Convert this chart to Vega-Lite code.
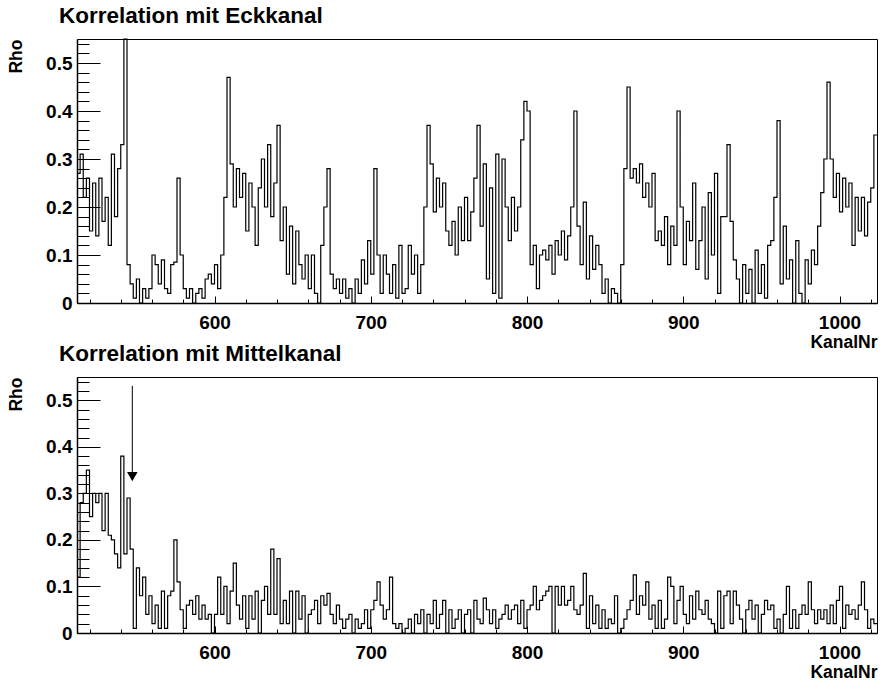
{
"$schema":"https://vega.github.io/schema/vega-lite/v6.json",
"background":"white",
"padding":{"left":7,"top":4,"right":3,"bottom":0},
"spacing":-9,
"config":{"view":{"stroke":"black","strokeWidth":1},"font":"Liberation Sans",
"axis":{"labelFont":"Liberation Sans","labelFontWeight":"bold","labelFontSize":19,"labelColor":"black","labelOverlap":false,"labelBound":false,"titleFont":"Liberation Sans","titleFontWeight":"bold","titleFontSize":17.5,"titleColor":"black","domainColor":"black","domainWidth":1.5,"tickColor":"black","tickWidth":1,"grid":false,"tickCount":200},
"title":{"font":"Liberation Sans","fontWeight":"bold","fontSize":22.5,"color":"black","anchor":"start","frame":"group","dx":-18,"offset":7}},
"datasets":{
"eck":[{"x":512,"y":0.27},{"x":514,"y":0.31},{"x":516,"y":0.22},{"x":518,"y":0.26},{"x":520,"y":0.15},{"x":522,"y":0.25},{"x":524,"y":0.14},{"x":526,"y":0.26},{"x":528,"y":0.17},{"x":530,"y":0.22},
{"x":532,"y":0.12},{"x":534,"y":0.31},{"x":536,"y":0.18},{"x":538,"y":0.28},{"x":540,"y":0.33},{"x":542,"y":0.55},{"x":544,"y":0.08},{"x":546,"y":0.04},{"x":548,"y":0.01},{"x":550,"y":0.05},
{"x":552,"y":0.0},{"x":554,"y":0.03},{"x":556,"y":0.01},{"x":558,"y":0.03},{"x":560,"y":0.1},{"x":562,"y":0.08},{"x":564,"y":0.04},{"x":566,"y":0.09},{"x":568,"y":0.03},{"x":570,"y":0.02},
{"x":572,"y":0.08},{"x":574,"y":0.085},{"x":576,"y":0.26},{"x":578,"y":0.1},{"x":580,"y":0.03},{"x":582,"y":0.01},{"x":584,"y":0.03},{"x":586,"y":0.0},{"x":588,"y":0.02},{"x":590,"y":0.03},
{"x":592,"y":0.01},{"x":594,"y":0.05},{"x":596,"y":0.06},{"x":598,"y":0.04},{"x":600,"y":0.08},{"x":602,"y":0.03},{"x":604,"y":0.1},{"x":606,"y":0.22},{"x":608,"y":0.47},{"x":610,"y":0.29},
{"x":612,"y":0.2},{"x":614,"y":0.28},{"x":616,"y":0.22},{"x":618,"y":0.27},{"x":620,"y":0.15},{"x":622,"y":0.25},{"x":624,"y":0.2},{"x":626,"y":0.12},{"x":628,"y":0.24},{"x":630,"y":0.3},
{"x":632,"y":0.2},{"x":634,"y":0.33},{"x":636,"y":0.18},{"x":638,"y":0.25},{"x":640,"y":0.37},{"x":642,"y":0.13},{"x":644,"y":0.2},{"x":646,"y":0.06},{"x":648,"y":0.16},{"x":650,"y":0.04},
{"x":652,"y":0.15},{"x":654,"y":0.08},{"x":656,"y":0.05},{"x":658,"y":0.1},{"x":660,"y":0.03},{"x":662,"y":0.1},{"x":664,"y":0.02},{"x":666,"y":0.0},{"x":668,"y":0.12},{"x":670,"y":0.2},
{"x":672,"y":0.28},{"x":674,"y":0.06},{"x":676,"y":0.03},{"x":678,"y":0.05},{"x":680,"y":0.02},{"x":682,"y":0.05},{"x":684,"y":0.01},{"x":686,"y":0.03},{"x":688,"y":0.0},{"x":690,"y":0.05},
{"x":692,"y":0.02},{"x":694,"y":0.09},{"x":696,"y":0.04},{"x":698,"y":0.13},{"x":700,"y":0.06},{"x":702,"y":0.28},{"x":704,"y":0.1},{"x":706,"y":0.02},{"x":708,"y":0.1},{"x":710,"y":0.06},
{"x":712,"y":0.02},{"x":714,"y":0.08},{"x":716,"y":0.01},{"x":718,"y":0.12},{"x":720,"y":0.02},{"x":722,"y":0.03},{"x":724,"y":0.12},{"x":726,"y":0.06},{"x":728,"y":0.1},{"x":730,"y":0.02},
{"x":732,"y":0.08},{"x":734,"y":0.2},{"x":736,"y":0.37},{"x":738,"y":0.29},{"x":740,"y":0.19},{"x":742,"y":0.26},{"x":744,"y":0.2},{"x":746,"y":0.25},{"x":748,"y":0.15},{"x":750,"y":0.12},
{"x":752,"y":0.17},{"x":754,"y":0.1},{"x":756,"y":0.2},{"x":758,"y":0.13},{"x":760,"y":0.22},{"x":762,"y":0.13},{"x":764,"y":0.19},{"x":766,"y":0.26},{"x":768,"y":0.37},{"x":770,"y":0.16},
{"x":772,"y":0.29},{"x":774,"y":0.05},{"x":776,"y":0.24},{"x":778,"y":0.02},{"x":780,"y":0.31},{"x":782,"y":0.01},{"x":784,"y":0.3},{"x":786,"y":0.2},{"x":788,"y":0.13},{"x":790,"y":0.22},
{"x":792,"y":0.15},{"x":794,"y":0.2},{"x":796,"y":0.34},{"x":798,"y":0.42},{"x":800,"y":0.4},{"x":802,"y":0.08},{"x":804,"y":0.12},{"x":806,"y":0.03},{"x":808,"y":0.1},{"x":810,"y":0.11},
{"x":812,"y":0.09},{"x":814,"y":0.12},{"x":816,"y":0.06},{"x":818,"y":0.13},{"x":820,"y":0.1},{"x":822,"y":0.15},{"x":824,"y":0.09},{"x":826,"y":0.14},{"x":828,"y":0.2},{"x":830,"y":0.4},
{"x":832,"y":0.16},{"x":834,"y":0.08},{"x":836,"y":0.21},{"x":838,"y":0.05},{"x":840,"y":0.14},{"x":842,"y":0.07},{"x":844,"y":0.12},{"x":846,"y":0.08},{"x":848,"y":0.02},{"x":850,"y":0.05},
{"x":852,"y":0.0},{"x":854,"y":0.03},{"x":856,"y":0.02},{"x":858,"y":0.0},{"x":860,"y":0.08},{"x":862,"y":0.28},{"x":864,"y":0.45},{"x":866,"y":0.26},{"x":868,"y":0.28},{"x":870,"y":0.25},
{"x":872,"y":0.29},{"x":874,"y":0.22},{"x":876,"y":0.25},{"x":878,"y":0.2},{"x":880,"y":0.27},{"x":882,"y":0.13},{"x":884,"y":0.15},{"x":886,"y":0.12},{"x":888,"y":0.18},{"x":890,"y":0.08},
{"x":892,"y":0.16},{"x":894,"y":0.12},{"x":896,"y":0.4},{"x":898,"y":0.2},{"x":900,"y":0.08},{"x":902,"y":0.17},{"x":904,"y":0.13},{"x":906,"y":0.25},{"x":908,"y":0.07},{"x":910,"y":0.13},
{"x":912,"y":0.2},{"x":914,"y":0.05},{"x":916,"y":0.23},{"x":918,"y":0.1},{"x":920,"y":0.27},{"x":922,"y":0.02},{"x":924,"y":0.18},{"x":926,"y":0.18},{"x":928,"y":0.33},{"x":930,"y":0.17},
{"x":932,"y":0.09},{"x":934,"y":0.05},{"x":936,"y":0.0},{"x":938,"y":0.08},{"x":940,"y":0.02},{"x":942,"y":0.07},{"x":944,"y":0.0},{"x":946,"y":0.11},{"x":948,"y":0.02},{"x":950,"y":0.08},
{"x":952,"y":0.01},{"x":954,"y":0.12},{"x":956,"y":0.13},{"x":958,"y":0.22},{"x":960,"y":0.38},{"x":962,"y":0.04},{"x":964,"y":0.16},{"x":966,"y":0.05},{"x":968,"y":0.09},{"x":970,"y":0.0},
{"x":972,"y":0.13},{"x":974,"y":0.02},{"x":976,"y":0.0},{"x":978,"y":0.09},{"x":980,"y":0.04},{"x":982,"y":0.11},{"x":984,"y":0.08},{"x":986,"y":0.16},{"x":988,"y":0.23},{"x":990,"y":0.3},
{"x":992,"y":0.46},{"x":994,"y":0.3},{"x":996,"y":0.22},{"x":998,"y":0.27},{"x":1000,"y":0.19},{"x":1002,"y":0.26},{"x":1004,"y":0.2},{"x":1006,"y":0.25},{"x":1008,"y":0.12},{"x":1010,"y":0.22},
{"x":1012,"y":0.15},{"x":1014,"y":0.22},{"x":1016,"y":0.14},{"x":1018,"y":0.21},{"x":1020,"y":0.24},{"x":1022,"y":0.35},{"x":1024,"y":0.35}],
"mitte":[{"x":512,"y":0.12},{"x":514,"y":0.28},{"x":516,"y":0.3},{"x":518,"y":0.35},{"x":520,"y":0.25},{"x":522,"y":0.3},{"x":524,"y":0.28},{"x":526,"y":0.3},{"x":528,"y":0.22},{"x":530,"y":0.3},
{"x":532,"y":0.21},{"x":534,"y":0.2},{"x":536,"y":0.17},{"x":538,"y":0.14},{"x":540,"y":0.38},{"x":542,"y":0.17},{"x":544,"y":0.29},{"x":546,"y":0.18},{"x":548,"y":0.01},{"x":550,"y":0.14},
{"x":552,"y":0.08},{"x":554,"y":0.12},{"x":556,"y":0.04},{"x":558,"y":0.08},{"x":560,"y":0.02},{"x":562,"y":0.06},{"x":564,"y":0.01},{"x":566,"y":0.09},{"x":568,"y":0.01},{"x":570,"y":0.08},
{"x":572,"y":0.09},{"x":574,"y":0.2},{"x":576,"y":0.11},{"x":578,"y":0.05},{"x":580,"y":0.01},{"x":582,"y":0.06},{"x":584,"y":0.07},{"x":586,"y":0.04},{"x":588,"y":0.08},{"x":590,"y":0.03},
{"x":592,"y":0.06},{"x":594,"y":0.03},{"x":596,"y":0.04},{"x":598,"y":0.0},{"x":600,"y":0.04},{"x":602,"y":0.12},{"x":604,"y":0.04},{"x":606,"y":0.1},{"x":608,"y":0.02},{"x":610,"y":0.09},
{"x":612,"y":0.15},{"x":614,"y":0.06},{"x":616,"y":0.03},{"x":618,"y":0.08},{"x":620,"y":0.01},{"x":622,"y":0.08},{"x":624,"y":0.03},{"x":626,"y":0.09},{"x":628,"y":0.0},{"x":630,"y":0.07},
{"x":632,"y":0.1},{"x":634,"y":0.04},{"x":636,"y":0.18},{"x":638,"y":0.04},{"x":640,"y":0.16},{"x":642,"y":0.02},{"x":644,"y":0.07},{"x":646,"y":0.02},{"x":648,"y":0.09},{"x":650,"y":0.0},
{"x":652,"y":0.09},{"x":654,"y":0.03},{"x":656,"y":0.08},{"x":658,"y":0.0},{"x":660,"y":0.04},{"x":662,"y":0.05},{"x":664,"y":0.07},{"x":666,"y":0.02},{"x":668,"y":0.08},{"x":670,"y":0.06},
{"x":672,"y":0.085},{"x":674,"y":0.04},{"x":676,"y":0.02},{"x":678,"y":0.06},{"x":680,"y":0.03},{"x":682,"y":0.01},{"x":684,"y":0.03},{"x":686,"y":0.04},{"x":688,"y":0.0},{"x":690,"y":0.03},
{"x":692,"y":0.01},{"x":694,"y":0.02},{"x":696,"y":0.05},{"x":698,"y":0.01},{"x":700,"y":0.05},{"x":702,"y":0.07},{"x":704,"y":0.11},{"x":706,"y":0.06},{"x":708,"y":0.03},{"x":710,"y":0.05},
{"x":712,"y":0.12},{"x":714,"y":0.02},{"x":716,"y":0.01},{"x":718,"y":0.02},{"x":720,"y":0.0},{"x":722,"y":0.01},{"x":724,"y":0.03},{"x":726,"y":0.0},{"x":728,"y":0.04},{"x":730,"y":0.02},
{"x":732,"y":0.05},{"x":734,"y":0.0},{"x":736,"y":0.04},{"x":738,"y":0.02},{"x":740,"y":0.07},{"x":742,"y":0.01},{"x":744,"y":0.04},{"x":746,"y":0.07},{"x":748,"y":0.0},{"x":750,"y":0.05},
{"x":752,"y":0.01},{"x":754,"y":0.03},{"x":756,"y":0.05},{"x":758,"y":0.0},{"x":760,"y":0.04},{"x":762,"y":0.05},{"x":764,"y":0.0},{"x":766,"y":0.07},{"x":768,"y":0.03},{"x":770,"y":0.02},
{"x":772,"y":0.075},{"x":774,"y":0.05},{"x":776,"y":0.02},{"x":778,"y":0.05},{"x":780,"y":0.01},{"x":782,"y":0.03},{"x":784,"y":0.04},{"x":786,"y":0.06},{"x":788,"y":0.03},{"x":790,"y":0.05},
{"x":792,"y":0.06},{"x":794,"y":0.02},{"x":796,"y":0.07},{"x":798,"y":0.01},{"x":800,"y":0.05},{"x":802,"y":0.06},{"x":804,"y":0.1},{"x":806,"y":0.05},{"x":808,"y":0.07},{"x":810,"y":0.08},
{"x":812,"y":0.09},{"x":814,"y":0.1},{"x":816,"y":0.0},{"x":818,"y":0.1},{"x":820,"y":0.06},{"x":822,"y":0.1},{"x":824,"y":0.06},{"x":826,"y":0.07},{"x":828,"y":0.1},{"x":830,"y":0.05},
{"x":832,"y":0.04},{"x":834,"y":0.06},{"x":836,"y":0.128},{"x":838,"y":0.01},{"x":840,"y":0.08},{"x":842,"y":0.02},{"x":844,"y":0.06},{"x":846,"y":0.01},{"x":848,"y":0.05},{"x":850,"y":0.01},
{"x":852,"y":0.03},{"x":854,"y":0.02},{"x":856,"y":0.08},{"x":858,"y":0.0},{"x":860,"y":0.01},{"x":862,"y":0.03},{"x":864,"y":0.05},{"x":866,"y":0.07},{"x":868,"y":0.125},{"x":870,"y":0.04},
{"x":872,"y":0.08},{"x":874,"y":0.06},{"x":876,"y":0.11},{"x":878,"y":0.03},{"x":880,"y":0.06},{"x":882,"y":0.01},{"x":884,"y":0.07},{"x":886,"y":0.01},{"x":888,"y":0.03},{"x":890,"y":0.12},
{"x":892,"y":0.1},{"x":894,"y":0.02},{"x":896,"y":0.07},{"x":898,"y":0.1},{"x":900,"y":0.04},{"x":902,"y":0.02},{"x":904,"y":0.08},{"x":906,"y":0.03},{"x":908,"y":0.09},{"x":910,"y":0.05},
{"x":912,"y":0.04},{"x":914,"y":0.07},{"x":916,"y":0.03},{"x":918,"y":0.02},{"x":920,"y":0.0},{"x":922,"y":0.09},{"x":924,"y":0.01},{"x":926,"y":0.08},{"x":928,"y":0.09},{"x":930,"y":0.02},
{"x":932,"y":0.09},{"x":934,"y":0.06},{"x":936,"y":0.03},{"x":938,"y":0.0},{"x":940,"y":0.05},{"x":942,"y":0.07},{"x":944,"y":0.03},{"x":946,"y":0.06},{"x":948,"y":0.0},{"x":950,"y":0.04},
{"x":952,"y":0.07},{"x":954,"y":0.05},{"x":956,"y":0.06},{"x":958,"y":0.01},{"x":960,"y":0.03},{"x":962,"y":0.0},{"x":964,"y":0.04},{"x":966,"y":0.1},{"x":968,"y":0.01},{"x":970,"y":0.05},
{"x":972,"y":0.01},{"x":974,"y":0.04},{"x":976,"y":0.06},{"x":978,"y":0.04},{"x":980,"y":0.11},{"x":982,"y":0.05},{"x":984,"y":0.02},{"x":986,"y":0.05},{"x":988,"y":0.03},{"x":990,"y":0.05},
{"x":992,"y":0.02},{"x":994,"y":0.06},{"x":996,"y":0.02},{"x":998,"y":0.07},{"x":1000,"y":0.1},{"x":1002,"y":0.01},{"x":1004,"y":0.06},{"x":1006,"y":0.04},{"x":1008,"y":0.05},{"x":1010,"y":0.03},
{"x":1012,"y":0.06},{"x":1014,"y":0.11},{"x":1016,"y":0.05},{"x":1018,"y":0.01},{"x":1020,"y":0.03},{"x":1022,"y":0.02},{"x":1024,"y":0.02}],
"arrow":[{"x":547.4,"y":0.531,"y2":0.345,"tip":0.336}]
},
"vconcat":[
{"title":"Korrelation mit Eckkanal","width":800,"height":264,
"layer":[
{"data":{"name":"eck"},"mark":{"type":"line","interpolate":"step-after","color":"black","strokeWidth":1.2},
"encoding":{"x":{"field":"x","type":"quantitative","scale":{"domain":[512,1024],"nice":false,"zero":false},
"axis":{"title":"KanalNr","titleAnchor":"end","titleAlign":"right","titlePadding":-2,"tickCount":200,"labelOverlap":false,"labelBound":false,"values":[520,540,560,580,600,620,640,660,680,700,720,740,760,780,800,820,840,860,880,900,920,940,960,980,1000,1020],"labelExpr":"datum.value % 100 == 0 ? datum.label : ''","format":"d","tickSize":{"condition":{"test":"datum.value % 100 == 0","value":-7},"value":-4},"labelPadding":17}},
"y":{"field":"y","type":"quantitative","scale":{"domain":[0,0.55],"nice":false},
"axis":{"title":"Rho","titleAnchor":"end","titlePadding":20,"tickCount":200,"labelOverlap":false,"labelBound":false,"values":[0,0.02,0.04,0.06,0.08,0.1,0.12,0.14,0.16,0.18,0.2,0.22,0.24,0.26,0.28,0.3,0.32,0.34,0.36,0.38,0.4,0.42,0.44,0.46,0.48,0.5,0.52,0.54],"labelExpr":"round(datum.value*50) % 5 == 0 ? (datum.value == 0 ? '0' : format(datum.value,'.1f')) : ''","tickSize":{"condition":{"test":"round(datum.value*50) % 5 == 0","value":-23},"value":-12},"labelPadding":28}}}},
{"mark":{"type":"rule","color":"#d00000","strokeWidth":1},"encoding":{"y":{"datum":0.5485}}},
{"mark":{"type":"rule","color":"#d00000","strokeWidth":1},"encoding":{"x":{"datum":512.5}}}
]},
{"title":"Korrelation mit Mittelkanal","width":800,"height":256,
"layer":[
{"data":{"name":"mitte"},"mark":{"type":"line","interpolate":"step-after","color":"black","strokeWidth":1.2},
"encoding":{"x":{"field":"x","type":"quantitative","scale":{"domain":[512,1024],"nice":false,"zero":false},
"axis":{"title":"KanalNr","titleAnchor":"end","titleAlign":"right","titlePadding":-2,"tickCount":200,"labelOverlap":false,"labelBound":false,"values":[520,540,560,580,600,620,640,660,680,700,720,740,760,780,800,820,840,860,880,900,920,940,960,980,1000,1020],"labelExpr":"datum.value % 100 == 0 ? datum.label : ''","format":"d","tickSize":{"condition":{"test":"datum.value % 100 == 0","value":-7},"value":-4},"labelPadding":17}},
"y":{"field":"y","type":"quantitative","scale":{"domain":[0,0.55],"nice":false},
"axis":{"title":"Rho","titleAnchor":"end","titlePadding":20,"tickCount":200,"labelOverlap":false,"labelBound":false,"values":[0,0.02,0.04,0.06,0.08,0.1,0.12,0.14,0.16,0.18,0.2,0.22,0.24,0.26,0.28,0.3,0.32,0.34,0.36,0.38,0.4,0.42,0.44,0.46,0.48,0.5,0.52,0.54],"labelExpr":"round(datum.value*50) % 5 == 0 ? (datum.value == 0 ? '0' : format(datum.value,'.1f')) : ''","tickSize":{"condition":{"test":"round(datum.value*50) % 5 == 0","value":-23},"value":-12},"labelPadding":28}}}},
{"mark":{"type":"rule","color":"#d00000","strokeWidth":1},"encoding":{"y":{"datum":0.5485}}},
{"mark":{"type":"rule","color":"#d00000","strokeWidth":1},"encoding":{"x":{"datum":512.5}}},
{"data":{"name":"arrow"},"mark":{"type":"rule","color":"black","strokeWidth":1},"encoding":{"x":{"field":"x","type":"quantitative"},"y":{"field":"y","type":"quantitative"},"y2":{"field":"y2"}}},
{"data":{"name":"arrow"},"mark":{"type":"point","shape":"triangle-down","filled":true,"color":"black","size":110,"opacity":1},"encoding":{"x":{"field":"x","type":"quantitative"},"y":{"field":"tip","type":"quantitative"}}}
]}
]
}
